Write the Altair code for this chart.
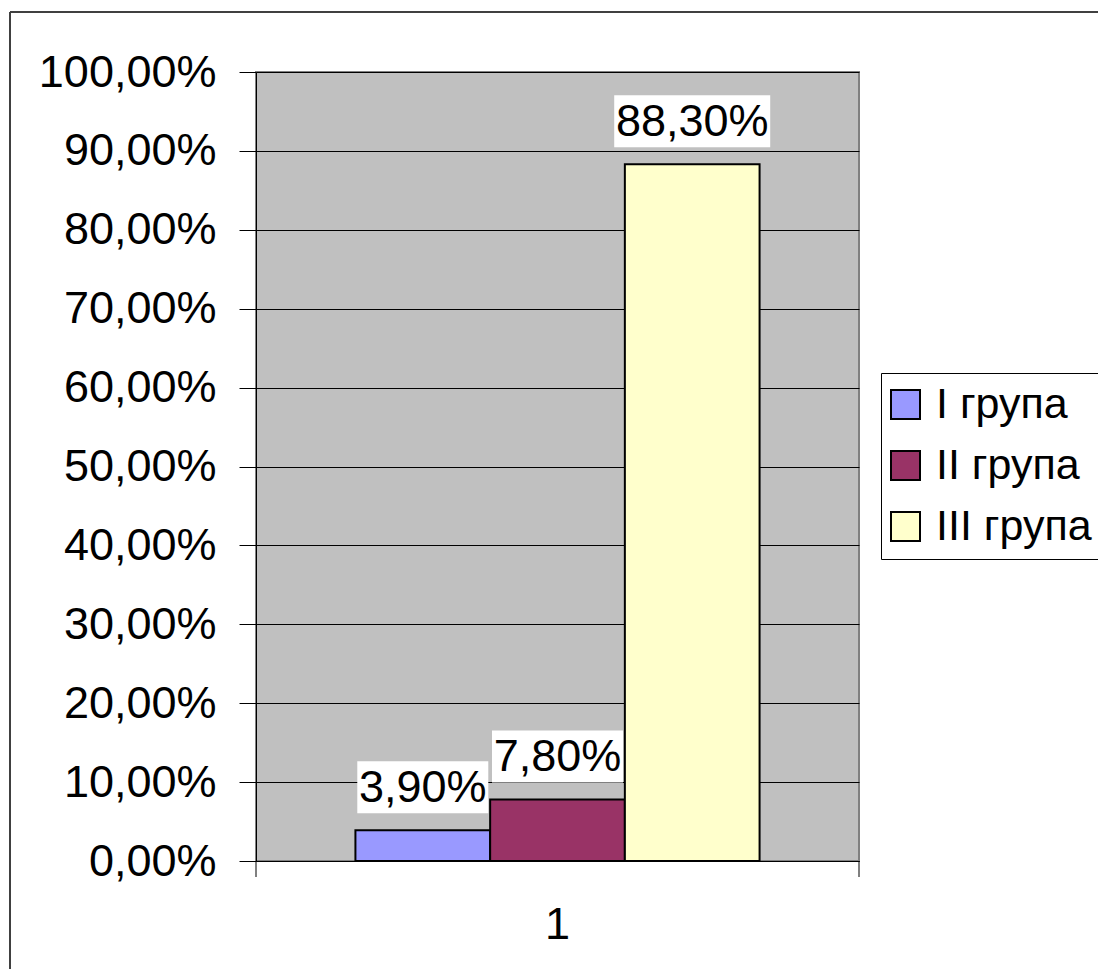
import altair as alt
import pandas as pd

FONT = "Liberation Sans"

groups = ["I група", "II група", "III група"]
values = [3.9, 7.8, 88.3]
labels = ["3,90%", "7,80%", "88,30%"]
category = ["1", "1", "1"]
colors = ["#9999FF", "#993366", "#FFFFCC"]
y_ticks = [0, 10, 20, 30, 40, 50, 60, 70, 80, 90, 100]

df = pd.DataFrame({"cat": category, "group": groups, "value": values, "label": labels})
deco = pd.DataFrame({"d": [0]})

W, H = 603, 789

x = alt.X(
    "cat:N",
    scale=alt.Scale(paddingInner=0, paddingOuter=0.246),
    axis=alt.Axis(
        title=None, labelAngle=0, ticks=False, tickSize=0, labelPadding=41,
        labelFontSize=45, labelFont=FONT, labelColor="black",
        domainColor="black", domainWidth=1, grid=False,
    ),
)
xo = alt.XOffset("group:N", sort=groups, scale=alt.Scale(paddingInner=0, paddingOuter=0))
y = alt.Y(
    "value:Q",
    scale=alt.Scale(domain=[0, 100], nice=False, zero=True),
    axis=alt.Axis(
        title=None, values=y_ticks,
        labelExpr="replace(format(datum.value, '.2f'), '.', ',') + '%'",
        labelFontSize=45, labelFont=FONT, labelColor="black", labelPadding=23,
        labelBaseline="middle",
        tickSize=17, tickColor="black", tickWidth=1,
        domainColor="black", domainWidth=1,
        grid=True, gridColor="black", gridWidth=1, gridOpacity=1,
    ),
)
color = alt.Color(
    "group:N",
    sort=groups,
    scale=alt.Scale(domain=groups, range=colors),
    legend=alt.Legend(
        title=None, orient="none", legendX=625, legendY=301,
        symbolType="square", symbolSize=841, symbolStrokeColor="black",
        symbolStrokeWidth=2, symbolOpacity=1, symbolOffset=-7,
        labelFontSize=43, labelFont=FONT, labelColor="black", labelOffset=9,
        labelLimit=400, rowPadding=17, padding=10, strokeColor="black",
    ),
)

base = alt.Chart(df)

bars = base.mark_bar(stroke="black", strokeWidth=2, opacity=1).encode(
    x=x, xOffset=xo, y=y, color=color
)

box5 = base.transform_filter("length(datum.label) == 5").mark_bar(
    color="white", width=131, yOffset=-69, y2Offset=-17
).encode(x=x, xOffset=xo, y=alt.Y("value:Q"), y2="value:Q")

box6 = base.transform_filter("length(datum.label) == 6").mark_bar(
    color="white", width=156, yOffset=-69, y2Offset=-17
).encode(x=x, xOffset=xo, y=alt.Y("value:Q"), y2="value:Q")

texts = base.mark_text(
    fontSize=45, font=FONT, baseline="alphabetic", dy=-28, color="black"
).encode(x=x, xOffset=xo, y=alt.Y("value:Q"), text="label:N")

dchart = alt.Chart(deco)
xtick_l = dchart.mark_rule(color="black", strokeWidth=1).encode(
    x=alt.value(0), y=alt.value(H), y2=alt.value(H + 16)
)
xtick_r = dchart.mark_rule(color="black", strokeWidth=1).encode(
    x=alt.value(W), y=alt.value(H), y2=alt.value(H + 16)
)
frame_top = dchart.mark_rule(color="#404040", strokeWidth=2).encode(
    x=alt.value(-246), x2=alt.value(842), y=alt.value(-60)
)
frame_left = dchart.mark_rule(color="#404040", strokeWidth=2).encode(
    x=alt.value(-246), y=alt.value(-60), y2=alt.value(897)
)

chart = (
    alt.layer(bars, box5, box6, texts, xtick_l, xtick_r, frame_top, frame_left)
    .properties(
        width=W, height=H,
        autosize=alt.AutoSizeParams(type="none"),
        padding={"left": 248, "top": 64, "right": 239, "bottom": 109},
        background="white",
    )
    .configure_view(fill="#C0C0C0", stroke="#808080", strokeWidth=2)
)

chart.save("out.html", embed_options={"renderer": "svg", "actions": False})
